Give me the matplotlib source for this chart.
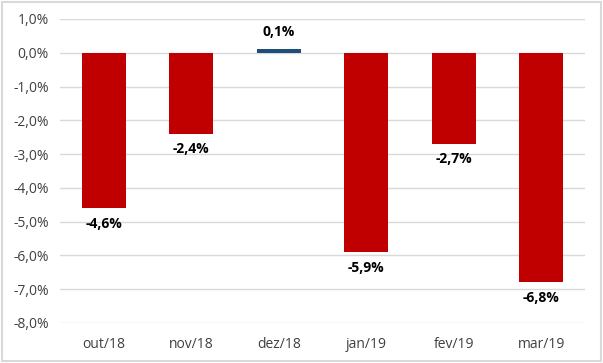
import matplotlib.pyplot as plt
from matplotlib.patches import Rectangle

months = ['out/18', 'nov/18', 'dez/18', 'jan/19', 'fev/19', 'mar/19']
values = [-4.6, -2.4, 0.1, -5.9, -2.7, -6.8]

plt.rcParams['font.family'] = ['Open Sans', 'DejaVu Sans']

fig = plt.figure(figsize=(6.03, 3.63), dpi=100)
ax = fig.add_axes([0.0995, 0.1102, 0.8705, 0.8375])

colors = ['#C00000' if v < 0 else '#1F4E79' for v in values]
x = range(len(months))
ax.bar(x, values, width=0.5, color=colors, zorder=3)

for i, v in enumerate(values):
    label = f'{v:.1f}'.replace('.', ',') + '%'
    if v < 0:
        ax.text(i, v - 0.25, label, ha='center', va='top', fontsize=10, fontweight='bold')
    else:
        ax.text(i, v + 0.3, label, ha='center', va='bottom', fontsize=10, fontweight='bold')

ax.set_xlim(-0.5, len(months) - 0.5)
ax.set_ylim(-8, 1)
ticks = range(-8, 2)
ax.set_yticks(ticks)
ax.set_yticklabels([f'{t:.1f}'.replace('.', ',') + '%' for t in ticks], fontsize=10, color='#404040')
ax.set_xticks(list(x))
ax.set_xticklabels(months, fontsize=10, color='#404040')
ax.tick_params(length=0, pad=8)
ax.tick_params(axis='x', pad=10)
ax.grid(axis='y', color='#D9D9D9', linewidth=1, zorder=0)
for s in ax.spines.values():
    s.set_visible(False)

fig.patches.append(Rectangle((0.003, 0.005), 0.994, 0.99, transform=fig.transFigure,
                             fill=False, edgecolor='#D9D9D9', linewidth=1.5))

fig.savefig('out.png', dpi=100)
